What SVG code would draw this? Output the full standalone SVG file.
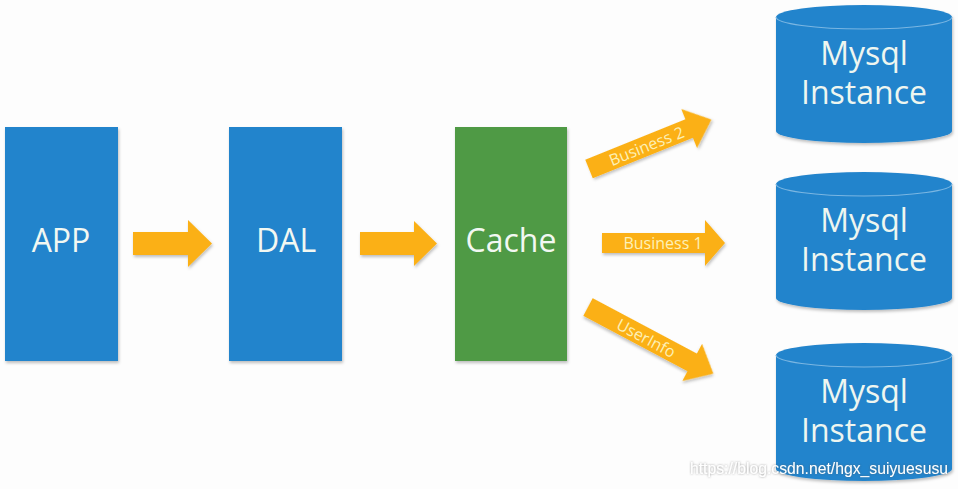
<svg xmlns="http://www.w3.org/2000/svg" width="958" height="489" viewBox="0 0 958 489">
<defs>
<filter id="sh" x="-10%" y="-10%" width="120%" height="120%">
<feDropShadow dx="1" dy="2" stdDeviation="1.5" flood-color="#000" flood-opacity="0.25"/>
</filter>
<filter id="wm" x="-5%" y="-30%" width="110%" height="160%">
<feDropShadow dx="0" dy="0" stdDeviation="0.8" flood-color="#555" flood-opacity="0.6"/>
</filter>
</defs>
<style>
.box{fill:#2484cc;filter:url(#sh)}
.green{fill:#4f9a45;filter:url(#sh)}
.cyl{fill:#2484cc;filter:url(#sh)}
.seam{fill:none;stroke:#7ab6e2;stroke-width:1.2}
.lbl{font-family:"Open Sans","Noto Sans",sans-serif;font-size:32px;fill:#f2f8f2;text-anchor:middle}
.db{font-family:"Open Sans","Noto Sans",sans-serif;font-size:32px;fill:#eef6f0;text-anchor:middle}
.arrow{fill:#fbb017;filter:url(#sh)}
.al{font-family:"Open Sans","Noto Sans",sans-serif;font-size:16px;fill:#fdf0b8;text-anchor:middle}
.wmk{font-family:"Liberation Sans",Arial,sans-serif;font-size:17px;fill:#ffffff;filter:url(#wm)}
</style>
<rect width="958" height="489" fill="#fdfdfd"/>
<g id="app"><rect class="box" x="5" y="127" width="113" height="234"/><text class="lbl" x="61" y="252">APP</text></g>
<g id="dal"><rect class="box" x="229" y="127" width="113" height="234"/><text class="lbl" x="286" y="252">DAL</text></g>
<g id="cache"><rect class="green" x="455" y="127" width="112" height="234"/><text class="lbl" x="511" y="252">Cache</text></g>
<g id="db1"><path class="cyl" d="M776,17 A88,12 0 0 1 952,17 L952,131 A88,12 0 0 1 776,131 Z"/><path class="seam" d="M776,17 A88,12 0 0 0 952,17"/><text class="db" x="864" y="65">Mysql</text><text class="db" x="864" y="104">Instance</text></g>
<g id="db2"><path class="cyl" d="M776,184 A88,12 0 0 1 952,184 L952,298 A88,12 0 0 1 776,298 Z"/><path class="seam" d="M776,184 A88,12 0 0 0 952,184"/><text class="db" x="864" y="232">Mysql</text><text class="db" x="864" y="271">Instance</text></g>
<g id="db3"><path class="cyl" d="M776,355 A88,12 0 0 1 952,355 L952,469 A88,12 0 0 1 776,469 Z"/><path class="seam" d="M776,355 A88,12 0 0 0 952,355"/><text class="db" x="864" y="403">Mysql</text><text class="db" x="864" y="442">Instance</text></g>
<g id="connectors">
<path class="arrow" d="M133,232 H188 V220 L212,243.5 L188,267 V255 H133 Z"/>
<path class="arrow" d="M360,232 H414 V221 L437,243.5 L414,266 V255 H360 Z"/>
<path class="arrow" d="M602,233 H705 V220 L725,243 L705,266 V253 H602 Z"/>
<text class="al" x="663" y="249">Business 1</text>
<g transform="translate(589,169) rotate(-22)"><path class="arrow" d="M0,-10 H108 V-21 L132,0 L108,21 V10 H0 Z"/><text class="al" x="62" y="6">Business 2</text></g>
<g transform="translate(588,307) rotate(28)"><path class="arrow" d="M0,-10 H118 V-21 L142,0 L118,21 V10 H0 Z"/><text class="al" x="66" y="6">UserInfo</text></g>
</g>
<text class="wmk" x="690" y="474" textLength="258" lengthAdjust="spacingAndGlyphs">https://blog.csdn.net/hgx_suiyuesusu</text>
</svg>
